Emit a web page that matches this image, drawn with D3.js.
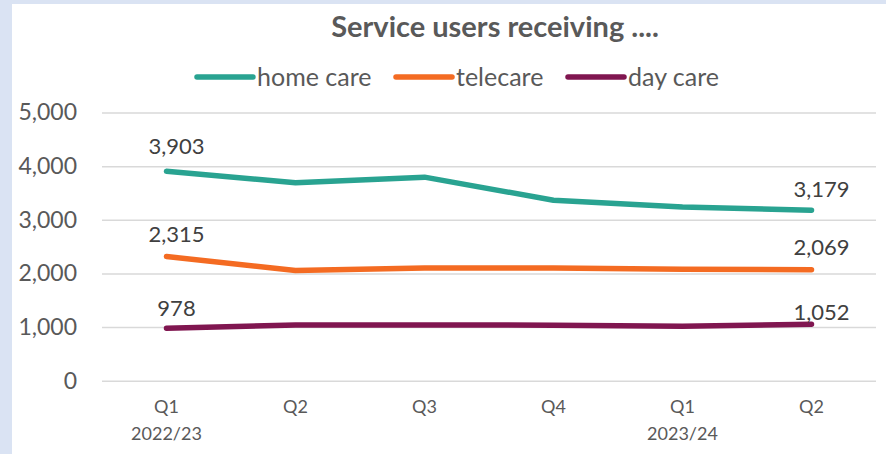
<!DOCTYPE html>
<html>
<head>
<meta charset="utf-8">
<script src="https://cdn.jsdelivr.net/npm/d3@7"></script>
<style>
  html, body { margin: 0; padding: 0; background: #dae3f3; }
  svg { display: block; font-family: Lato, "Open Sans", sans-serif; }
</style>
</head>
<body>
<svg id="chart" width="886" height="454"></svg>
<script>
// Quarters shown along the x axis (quarter label, financial-year label)
const quarters = ["Q1", "Q2", "Q3", "Q4", "Q1", "Q2"];
const years = ["2022/23", "", "", "", "2023/24", ""];

// Number of service users per quarter
const homeCare = [3903, 3690, 3795, 3365, 3240, 3179];
const telecare = [2315, 2055, 2100, 2100, 2080, 2069];
const dayCare = [978, 1040, 1040, 1035, 1015, 1052];

const seriesNames = ["home care", "telecare", "day care"];
const seriesColors = ["#29a391", "#f46b22", "#801650"];

const yTicks = [0, 1000, 2000, 3000, 4000, 5000];

const svg = d3.select("#chart");
const W = 886, H = 454;

// white chart panel on the light blue page
svg.append("rect").attr("x", 12).attr("y", 4).attr("width", W - 12).attr("height", H - 4).attr("fill", "#ffffff");

const margin = { left: 102, right: 10, top: 112.5, bottom: 73.3 };
const plotW = W - margin.left - margin.right;

const x = d3.scaleBand().domain(d3.range(quarters.length)).range([margin.left, W - margin.right]);
const y = d3.scaleLinear().domain([0, 5000]).range([H - margin.bottom, margin.top]);

const textColor = "#595959";
const fmt = d3.format(",");

// gridlines + y axis labels
const yAxis = d3.axisLeft(y).tickValues(yTicks).tickFormat(fmt).tickSize(-plotW).tickPadding(25);
const gy = svg.append("g").attr("transform", `translate(${margin.left},0)`).call(yAxis);
gy.select(".domain").remove();
gy.selectAll(".tick line").attr("stroke", "#d9d9d9").attr("stroke-width", 1.5);
gy.selectAll(".tick text").attr("fill", textColor).attr("font-size", 23).attr("font-family", "Lato, sans-serif");

// x axis labels (two lines)
const xAxis = d3.axisBottom(x).tickFormat(i => quarters[i]).tickSize(0).tickPadding(20);
const gx = svg.append("g").attr("transform", `translate(0,${y(0)})`).call(xAxis);
gx.select(".domain").remove();
gx.selectAll(".tick text")
  .attr("fill", textColor).attr("font-size", 18).attr("font-family", "Lato, sans-serif")
  .each(function (i) {
    if (years[i]) {
      d3.select(this).append("tspan").attr("x", 0).attr("dy", "1.45em").text(years[i]);
    }
  });

// lines
const series = [homeCare, telecare, dayCare];
const line = d3.line().x((d, i) => x(i) + x.bandwidth() / 2).y(d => y(d));
series.forEach((vals, s) => {
  svg.append("path")
    .datum(vals)
    .attr("d", line)
    .attr("fill", "none")
    .attr("stroke", seriesColors[s])
    .attr("stroke-width", 5.5)
    .attr("stroke-linecap", "round")
    .attr("stroke-linejoin", "round");
});

// value labels on first and last points
const labelLift = [[17, 13], [15, 15], [12, 4]];
series.forEach((vals, s) => {
  [0, vals.length - 1].forEach((i, k) => {
    svg.append("text")
      .attr("x", x(i) + x.bandwidth() / 2 + 10)
      .attr("y", y(vals[i]) - labelLift[s][k])
      .attr("text-anchor", "middle")
      .attr("fill", "#404040")
      .attr("font-size", 22)
      .text(fmt(vals[i]));
  });
});

// title
svg.append("text")
  .attr("x", 495).attr("y", 37)
  .attr("text-anchor", "middle")
  .attr("fill", textColor)
  .attr("font-size", 29)
  .attr("font-weight", "bold")
  .text("Service users receiving ....");

// legend
const legendX = [197, 396, 568];
seriesNames.forEach((name, s) => {
  const g = svg.append("g").attr("transform", `translate(${legendX[s]},77)`);
  g.append("line").attr("x1", 0).attr("x2", 56).attr("y1", 0).attr("y2", 0)
    .attr("stroke", seriesColors[s]).attr("stroke-width", 5.5).attr("stroke-linecap", "round");
  g.append("text").attr("x", 60).attr("y", 8.5).attr("fill", textColor).attr("font-size", 25).text(name);
});
</script>
</body>
</html>
